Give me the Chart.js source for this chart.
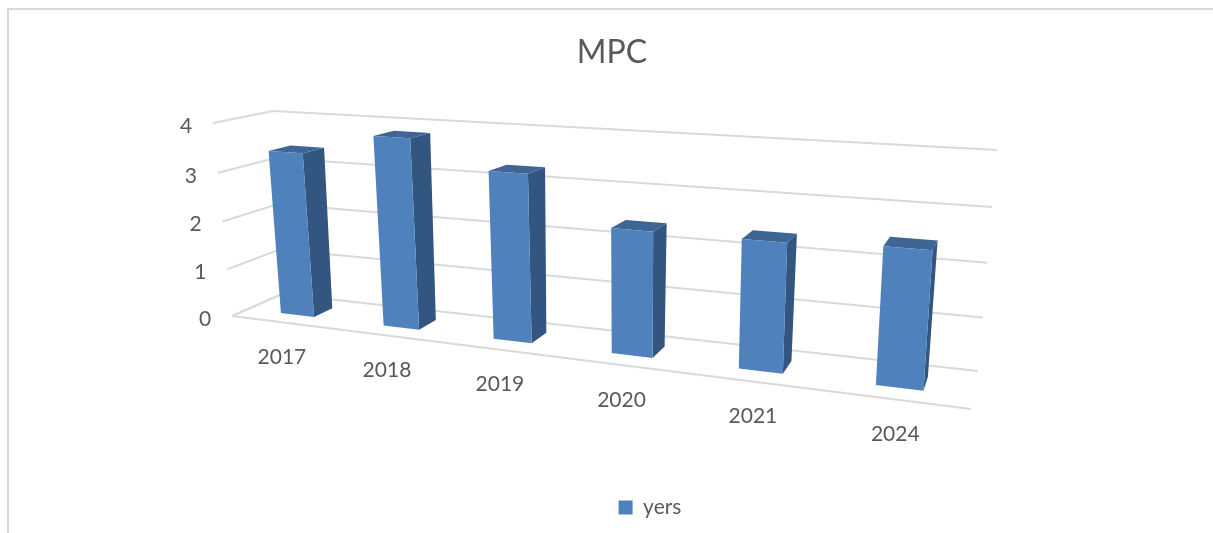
<!DOCTYPE html>
<html>
<head>
<meta charset="utf-8">
<title>MPC</title>
<script src="https://cdn.jsdelivr.net/npm/chart.js@4"></script>
<style>
  html, body { margin: 0; background: #fff; overflow: hidden; }
  #frame { position: absolute; left: 7px; top: 8px; right: 0; bottom: 0; border-left: 2px solid #d9d9d9; border-top: 2px solid #d9d9d9; }
  canvas { position: absolute; left: 0; top: 0; }
</style>
</head>
<body>
<div id="frame"></div>
<canvas id="chart" width="1213" height="533"></canvas>
<script>
// Data
const years = ['2017', '2018', '2019', '2020', '2021', '2024'];
const values = [3.4, 3.83, 3.3, 2.4, 2.4, 2.48];
const seriesName = 'yers';
const yTicks = { min: 0, max: 4, step: 1 };

const FRONT = '#4f81bd', SIDE = '#325680', TOP = '#3e6594', GRID = '#d9d9d9', TEXT = '#595959';
const FONT = 'Lato, Carlito, sans-serif';

// Corners of the 3D box on the page: bottom-left, bottom-right, top-right, top-left
const frontWall = [[232, 316], [971, 409], [988, 169], [213, 123]];
const backWall = [[282, 294], [978, 371], [997, 150], [273, 111]];
const barDepth = [0.32, 0.7];

// unit square -> quad
function homography(q) {
  const [[x0, y0], [x1, y1], [x2, y2], [x3, y3]] = q;
  const dx1 = x1 - x2, dx2 = x3 - x2, sx = x0 - x1 + x2 - x3;
  const dy1 = y1 - y2, dy2 = y3 - y2, sy = y0 - y1 + y2 - y3;
  const det = dx1 * dy2 - dx2 * dy1;
  const g = (sx * dy2 - dx2 * sy) / det;
  const h = (dx1 * sy - sx * dy1) / det;
  const a = x1 - x0 + g * x1, b = x3 - x0 + h * x3;
  const d = y1 - y0 + g * y1, e = y3 - y0 + h * y3;
  return (u, v) => {
    const w = g * u + h * v + 1;
    return [(a * u + b * v + x0) / w, (d * u + e * v + y0) / w];
  };
}
const frontMap = homography(frontWall);
const backMap = homography(backWall);

function project(u, v, depth) {
  const f = frontMap(u, v), b = backMap(u, v);
  return [f[0] + (b[0] - f[0]) * depth, f[1] + (b[1] - f[1]) * depth];
}

function poly(ctx, pts, color) {
  ctx.beginPath();
  pts.forEach((p, i) => i ? ctx.lineTo(p[0], p[1]) : ctx.moveTo(p[0], p[1]));
  ctx.closePath();
  ctx.fillStyle = color;
  ctx.fill();
}

function line(ctx, a, b) {
  ctx.beginPath();
  ctx.moveTo(a[0], a[1]);
  ctx.lineTo(b[0], b[1]);
  ctx.stroke();
}

// Chart.js does the scales, this plugin projects them into the 3D box
const box3d = {
  id: 'box3d',
  beforeDraw(chart) {
    // the legend sits right of centre in the original
    if (!chart.legend._moved) {
      chart.legend.left += 38;
      chart.legend.right += 38;
      chart.legend._moved = true;
    }
  },
  beforeDatasetsDraw(chart) {
    const { ctx, chartArea: area, scales: { x, y } } = chart;
    const vOf = val => (area.bottom - y.getPixelForValue(val)) / area.height;
    ctx.save();
    ctx.strokeStyle = GRID;
    ctx.lineWidth = 2;
    y.ticks.forEach(t => {
      const v = vOf(t.value);
      line(ctx, project(0, v, 0), project(0, v, 1));
      line(ctx, project(0, v, 1), project(1, v, 1));
    });
    line(ctx, project(0, 0, 0), project(1, 0, 0));

    ctx.fillStyle = TEXT;
    ctx.font = '21px ' + FONT;
    ctx.textAlign = 'center';
    ctx.textBaseline = 'middle';
    y.ticks.forEach(t => {
      const p = project(0, vOf(t.value), 0);
      ctx.fillText(String(t.value), p[0] - 27, p[1] + 3);
    });
    x.getLabels().forEach((label, i) => {
      const p = project((x.getPixelForValue(i) - area.left) / area.width, 0, 0);
      ctx.fillText(label, p[0], p[1] + 35);
    });
    ctx.restore();
  },
  beforeDatasetDraw() {
    return false; // bars are drawn projected, below
  },
  afterDatasetsDraw(chart) {
    const { ctx, chartArea: area } = chart;
    const [d0, d1] = barDepth;
    chart.getDatasetMeta(0).data.forEach(bar => {
      const { x, y, base, width } = bar.getProps(['x', 'y', 'base', 'width'], true);
      const u0 = (x - width / 2 - area.left) / area.width;
      const u1 = (x + width / 2 - area.left) / area.width;
      const v0 = (area.bottom - base) / area.height;
      const v1 = (area.bottom - y) / area.height;
      poly(ctx, [project(u1, v0, d0), project(u1, v0, d1), project(u1, v1, d1), project(u1, v1, d0)], SIDE);
      poly(ctx, [project(u0, v1, d0), project(u1, v1, d0), project(u1, v1, d1), project(u0, v1, d1)], TOP);
      poly(ctx, [project(u0, v0, d0), project(u1, v0, d0), project(u1, v1, d0), project(u0, v1, d0)], FRONT);
    });
  }
};

new Chart(document.getElementById('chart').getContext('2d'), {
  type: 'bar',
  data: {
    labels: years,
    datasets: [{
      label: seriesName,
      data: values,
      backgroundColor: FRONT,
      categoryPercentage: 1,
      barPercentage: 0.33
    }]
  },
  options: {
    responsive: false,
    animation: false,
    events: [],
    layout: { padding: { left: 11, bottom: 5 } },
    scales: {
      x: { display: false },
      y: { display: false, min: yTicks.min, max: yTicks.max, ticks: { stepSize: yTicks.step } }
    },
    plugins: {
      title: {
        display: true,
        text: 'MPC',
        color: TEXT,
        font: { family: FONT, size: 32, weight: 'normal' },
        padding: { top: 33, bottom: 10 }
      },
      legend: {
        position: 'bottom',
        labels: { color: TEXT, boxWidth: 14, boxHeight: 14, font: { family: FONT, size: 21 } }
      },
      tooltip: { enabled: false }
    }
  },
  plugins: [box3d]
});
</script>
</body>
</html>
